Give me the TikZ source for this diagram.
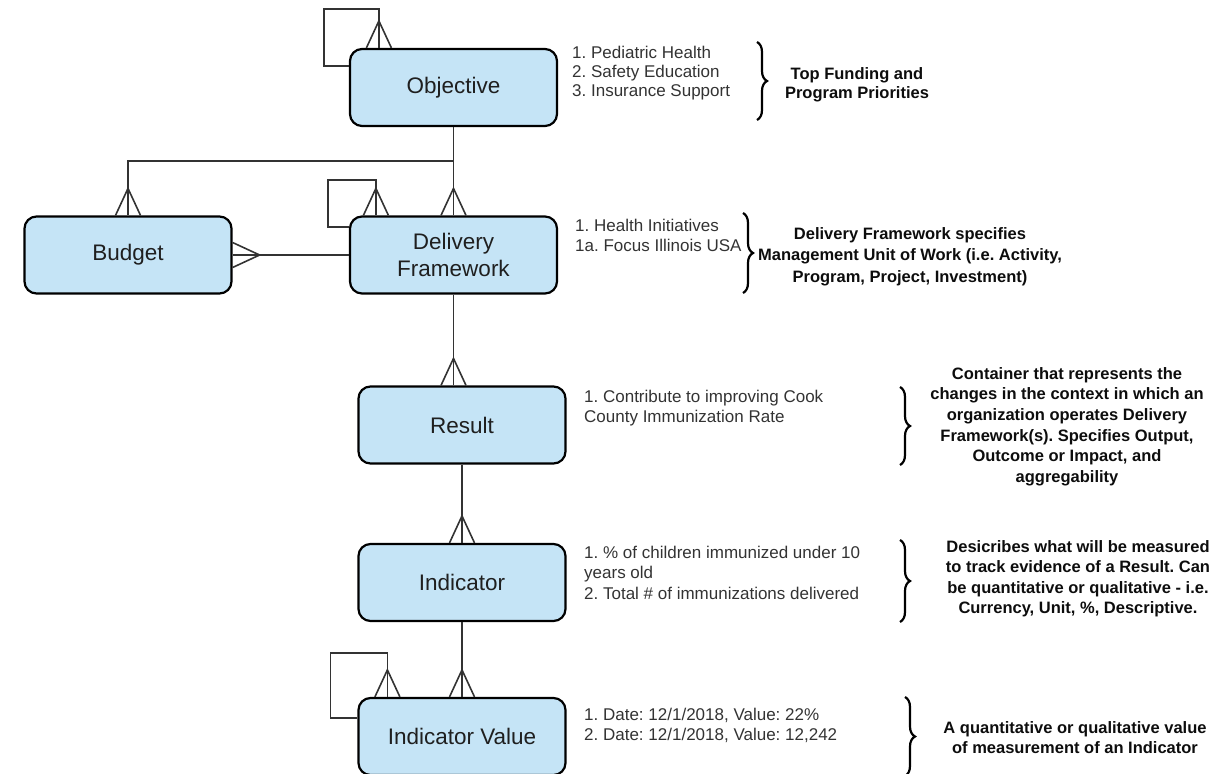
\documentclass[tikz,border=0pt]{standalone}
\usepackage{fontspec}
\setmainfont{Liberation Sans}
\usetikzlibrary{calc,decorations.pathreplacing}
\definecolor{boxfill}{HTML}{C5E4F6}
\definecolor{linecol}{HTML}{333333}
\definecolor{txtgray}{HTML}{333333}
\frenchspacing
\newcommand{\lfont}[1]{\fontsize{17}{#1}\selectfont}
\newcommand{\bfnt}[1]{\fontsize{16.5}{#1}\selectfont\bfseries}
\newcommand{\crowN}[1]{\draw[conn] ($(#1)+(-12.5,0)$) -- ($(#1)+(0,27)$) -- ($(#1)+(12.5,0)$);}
\newcommand{\crowE}[1]{\draw[conn] ($(#1)+(0,12.5)$) -- ($(#1)+(27,0)$) -- ($(#1)+(0,-12.5)$);}
\begin{document}
\frenchspacing
\begin{tikzpicture}[x=1pt,y=1pt,
  ent/.style={draw=black, line width=2.2pt, rounded corners=12pt, fill=boxfill,
    minimum width=207pt, minimum height=77pt, inner sep=0pt, align=center,
    font=\fontsize{22.5}{27}\selectfont, text=black!88},
  conn/.style={draw=linecol, line width=1.6pt},
  listtxt/.style={anchor=north west, inner sep=0pt, align=left, text=txtgray},
  desc/.style={anchor=north, inner sep=0pt, align=center, text=black!95},
  bracestyle/.style={draw=black, line width=2.2pt, decorate, decoration={brace, amplitude=10pt}}
]
\useasboundingbox (0,0) rectangle (1219,-774);

% entities
\node[ent] (obj) at (453.5,-87.5) {Objective};
\node[ent] (bud) at (128,-255) {Budget};
\node[ent] (df) at (453.5,-255) {Delivery\\Framework};
\node[ent] (res) at (462,-425) {Result};
\node[ent] (ind) at (462,-582.5) {Indicator};
\node[ent] (iv) at (462,-736.5) {Indicator Value};

% objective self loop
\coordinate (o1) at ($(obj.west)+(0,21.5)$);
\coordinate (o2) at ($(obj.north west)+(30,0)$);
\draw[conn] (o1) -| ($(obj.north west)+(-25,39)$) -| (o2);
\crowN{o2}

% objective -> delivery framework
\draw[conn] (obj.south) -- (df.north);
\crowN{df.north}

% objective -> budget
\coordinate (j1) at ($(obj.south)+(0,-34)$);
\draw[conn] (j1) -| (bud.north);
\crowN{bud.north}

% delivery framework self loop
\coordinate (d1) at ($(df.west)+(0,28)$);
\coordinate (d2) at ($(df.north west)+(27,0)$);
\draw[conn] (d1) -| ($(df.north west)+(-21,35.5)$) -| (d2);
\crowN{d2}

% delivery framework -> budget
\draw[conn] (df.west) -- (bud.east);
\crowE{bud.east}

% delivery framework -> result
\coordinate (r1) at (df.south |- res.north);
\draw[conn] (df.south) -- (r1);
\crowN{r1}

% result -> indicator
\draw[conn] (res.south) -- (ind.north);
\crowN{ind.north}

% indicator -> indicator value
\draw[conn] (ind.south) -- (iv.north);
\crowN{iv.north}

% indicator value self loop
\coordinate (v1) at ($(iv.west)+(0,18.5)$);
\coordinate (v2) at ($(iv.north west)+(30,0)$);
\draw[conn] (v1) -| ($(iv.north west)+(-27,44)$) -| (v2);
\crowN{v2}

% lists
\node[listtxt, font=\lfont{19}] (lobj) at (572,-45.2)
  {\strut 1. Pediatric Health\\2. Safety Education\\3. Insurance Support};
\node[listtxt, font=\lfont{20.5}] (ldf) at (575,-216.6)
  {\strut 1. Health Initiatives\\1a. Focus Illinois USA};
\node[listtxt, font=\lfont{20}] (lres) at (584,-388)
  {\strut 1. Contribute to improving Cook\\County Immunization Rate};
\node[listtxt, font=\lfont{20.5}] (lind) at (584,-543.6)
  {\strut 1. \% of children immunized under 10\\years old\\2. Total \# of immunizations delivered};
\node[listtxt, font=\lfont{20}] (liv) at (584,-706)
  {\strut 1. Date: 12/1/2018, Value: 22\%\\2. Date: 12/1/2018, Value: 12,242};

% braces
\draw[bracestyle] (757,-42) -- (757,-120);
\draw[bracestyle] (743,-213) -- (743,-293);
\draw[bracestyle] (900,-387) -- (900,-465);
\draw[bracestyle] (900,-540) -- (900,-622);
\draw[bracestyle] (905,-697) -- (905,-776);

% descriptions
\node[desc, font=\bfnt{19}] (t1) at (857,-65.7)
  {\strut Top Funding and\\Program Priorities};
\node[desc, font=\bfnt{21.5}] (t2) at (910,-224)
  {\strut Delivery Framework specifies\\Management Unit of Work (i.e. Activity,\\Program, Project, Investment)};
\node[desc, font=\bfnt{20.7}] (t3) at (1067,-364.5)
  {\strut Container that represents the\\changes in the context in which an\\organization operates Delivery\\Framework(s). Specifies Output,\\Outcome or Impact, and\\aggregability};
\node[desc, font=\bfnt{20.5}] (t4) at (1078,-537.6)
  {\strut Desicribes what will be measured\\to track evidence of a Result. Can\\be quantitative or qualitative - i.e.\\Currency, Unit, \%, Descriptive.};
\node[desc, font=\bfnt{20}] (t5) at (1075,-719)
  {\strut A quantitative or qualitative value\\of measurement of an Indicator};
\end{tikzpicture}
\end{document}
